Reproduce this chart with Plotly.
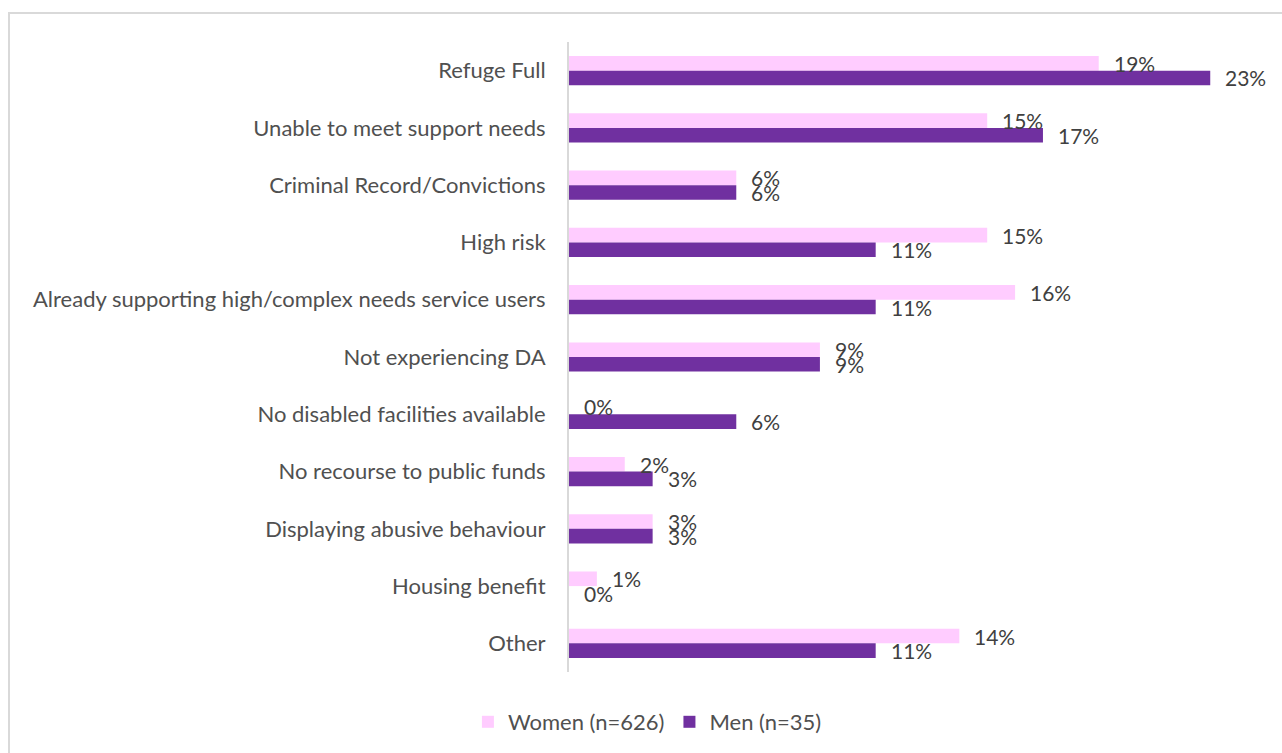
import plotly.graph_objects as go

# Reasons for refusal, in display order (top to bottom)
categories = [
    "Refuge Full",
    "Unable to meet support needs",
    "Criminal Record/Convictions",
    "High risk",
    "Already supporting high/complex needs service users",
    "Not experiencing DA",
    "No disabled facilities available",
    "No recourse to public funds",
    "Displaying abusive behaviour",
    "Housing benefit",
    "Other",
]
women_pct = [19, 15, 6, 15, 16, 9, 0, 2, 3, 1, 14]
men_pct = [23, 17, 6, 11, 11, 9, 6, 3, 3, 0, 11]
series_names = ["Women (n=626)", "Men (n=35)"]

W, H = 1282, 753
PLOT_L, PLOT_R, PLOT_T, PLOT_B = 569, 1266, 42, 672
FONT = "Lato"
TEXT = "#404040"
COLORS = ["#FFCCFF", "#7030A0"]
BARGAP = 0.49

fig = go.Figure()
for name, vals, col in zip(series_names, [women_pct, men_pct], COLORS):
    fig.add_trace(go.Bar(
        name=name, y=categories, x=vals, orientation="h",
        marker=dict(color=col, line=dict(width=0)),
        hoverinfo="skip",
    ))

# Data labels just past the end of each bar
band = (PLOT_B - PLOT_T) / len(categories)
bar_h = band * (1 - BARGAP) / 2
annotations = []
for i, vals in enumerate([women_pct, men_pct]):
    shift = bar_h / 2 if i == 0 else -bar_h / 2
    for cat, v in zip(categories, vals):
        annotations.append(dict(
            x=v, y=cat, xref="x", yref="y", text=f"{v}%",
            showarrow=False, xanchor="left", yanchor="middle",
            xshift=13, yshift=shift,
            font=dict(family=FONT, size=21, color=TEXT),
        ))

fig.update_layout(
    width=W, height=H,
    margin=dict(l=0, r=0, t=0, b=0),
    paper_bgcolor="white", plot_bgcolor="white",
    barmode="group", bargap=BARGAP, bargroupgap=0,
    font=dict(family=FONT, size=22, color=TEXT),
    xaxis=dict(
        domain=[PLOT_L / W, PLOT_R / W], range=[0, 25],
        showgrid=False, zeroline=False, showticklabels=False,
        showline=False, fixedrange=True,
    ),
    yaxis=dict(
        domain=[1 - PLOT_B / H, 1 - PLOT_T / H],
        autorange="reversed", showgrid=False, zeroline=False,
        showline=True, linecolor="#D9D9D9", linewidth=2,
        ticks="", ticklabelstandoff=17,
        tickfont=dict(family=FONT, size=22, color="#505050"),
    ),
    legend=dict(
        orientation="h", x=0.505, xanchor="center", y=1 - 722 / H,
        yanchor="middle", font=dict(family=FONT, size=22, color="#505050"),
        traceorder="normal", itemwidth=30,
    ),
    annotations=annotations,
    shapes=[dict(
        type="rect", xref="paper", yref="paper",
        x0=9 / W, x1=1.01, y0=-0.01, y1=1 - 13 / H,
        line=dict(color="#D9D9D9", width=2), fillcolor="rgba(0,0,0,0)",
        layer="below",
    )],
)

fig.write_html("out.html")
